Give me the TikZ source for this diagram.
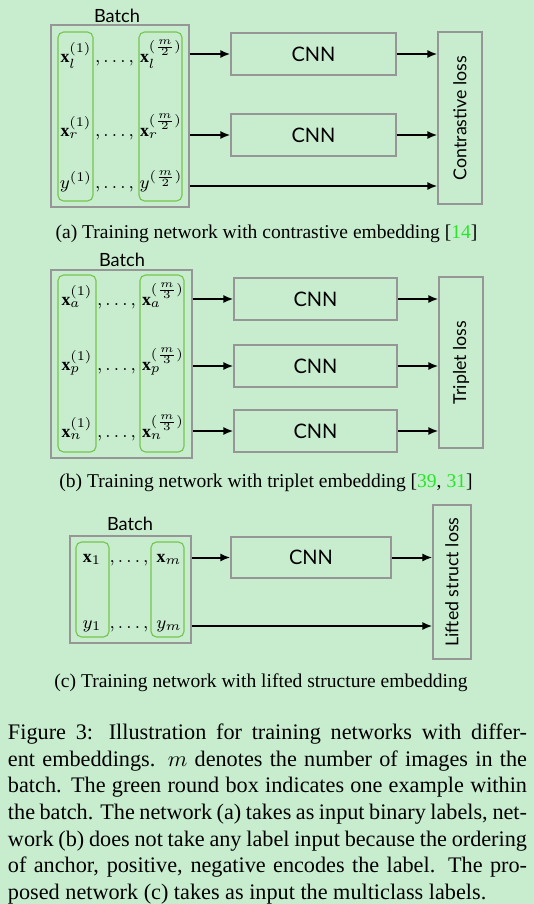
\documentclass[tikz,border=0pt]{standalone}
\usepackage{amsmath}
\usepackage{amssymb}
\usepackage{graphicx}
\usepackage{fontspec}
\setmainfont{Liberation Serif}
\setsansfont{Lato}
\usepackage{tikz}
\usetikzlibrary{arrows.meta}

\definecolor{bgreen}{RGB}{199,237,206}
\definecolor{boxgray}{RGB}{150,150,150}
\definecolor{exgreen}{RGB}{118,196,78}
\definecolor{refgreen}{RGB}{40,230,40}

\begin{document}
\begin{tikzpicture}[x=0.45pt,y=-0.45pt,
  every node/.style={font=\sffamily\fontsize{9}{11}\selectfont},
  batchbox/.style={draw=boxgray,line width=0.5pt,inner sep=0},
  batchlab/.style={anchor=base,inner sep=0,font=\sffamily\fontsize{8.2}{10}\selectfont},
  exbox/.style={draw=exgreen,line width=0.5pt,rounded corners=2.5pt,inner sep=0},
  cnnbox/.style={draw=boxgray,line width=0.5pt,minimum height=18.9pt},
  lossbox/.style={draw=boxgray,line width=0.5pt,minimum width=19.8pt,inner sep=0,font=\sffamily\fontsize{8}{10}\selectfont},
  entry/.style={anchor=base,inner sep=0,font=\fontsize{8}{10}\selectfont},
  flow/.style={line width=0.9pt,-{Latex[length=4.5pt,width=3.6pt]}},
  subcap/.style={font=\rmfamily\fontsize{8.8}{11}\selectfont},
  figcap/.style={font=\rmfamily\fontsize{10}{12}\selectfont,text width=233.55pt,align=justify,inner sep=0}]

\useasboundingbox (0,0) rectangle (534,904);
\fill [bgreen] (0,0) rectangle (534,904);

\begin{scope}

\node [batchbox,minimum width=62.1pt,minimum height=81.9pt] (batchA) at (120,116) {};
\node [batchlab] (batchlabA) at (117,22) {Batch};

\node [exbox,minimum width=15.75pt,minimum height=76.05pt] (exA1) at (75.5,116.5) {};
\node [exbox,minimum width=19.35pt,minimum height=76.05pt] (exA2) at (160.5,116.5) {};

\node [entry] (xlA1) at (76,62) {$\mathbf{x}_l^{(1)}$};
\node [entry] (dotsA1) at (114.5,62) {$,\ldots,$};
\node [entry] (xlA2) at (161,62) {$\mathbf{x}_l^{(\frac{m}{2})}$};
\node [entry] (xrA1) at (76,136) {$\mathbf{x}_r^{(1)}$};
\node [entry] (dotsA2) at (114.5,136) {$,\ldots,$};
\node [entry] (xrA2) at (161,136) {$\mathbf{x}_r^{(\frac{m}{2})}$};
\node [entry] (yA1) at (76,188) {$y^{(1)}$};
\node [entry] (dotsA3) at (114.5,188) {$,\ldots,$};
\node [entry] (yA2) at (161,188) {$y^{(\frac{m}{2})}$};

\node [cnnbox,minimum width=74.25pt] (cnnA1) at (313.5,54) {CNN};
\node [cnnbox,minimum width=74.25pt] (cnnA2) at (313.5,135) {CNN};
\node [lossbox,minimum height=77.4pt] (lossA) at (460,118) {\rotatebox{90}{Contrastive loss}};
\coordinate (rowA3) at (0,186);

\draw [flow] (batchA.east |- cnnA1) -- (cnnA1.west);
\draw [flow] (cnnA1.east) -- (lossA.west |- cnnA1);
\draw [flow] (batchA.east |- cnnA2) -- (cnnA2.west);
\draw [flow] (cnnA2.east) -- (lossA.west |- cnnA2);
\draw [flow] (batchA.east |- rowA3) -- (lossA.west |- rowA3);

\node [subcap] (capA) at (266.5,234) {(a) Training network with contrastive embedding [\textcolor{refgreen}{14}]};

\end{scope}

\begin{scope}

\node [batchbox,minimum width=63.45pt,minimum height=84.6pt] (batchB) at (121.5,364) {};
\node [batchlab] (batchlabB) at (122,266) {Batch};

\node [exbox,minimum width=17.1pt,minimum height=79.65pt] (exB1) at (77,363.5) {};
\node [exbox,minimum width=19.8pt,minimum height=79.65pt] (exB2) at (162,363.5) {};

\node [entry] (xaB1) at (77,305) {$\mathbf{x}_a^{(1)}$};
\node [entry] (dotsB1) at (116.5,305) {$,\ldots,$};
\node [entry] (xaB2) at (163,305) {$\mathbf{x}_a^{(\frac{m}{3})}$};
\node [entry] (xpB1) at (77,370) {$\mathbf{x}_p^{(1)}$};
\node [entry] (dotsB2) at (116.5,370) {$,\ldots,$};
\node [entry] (xpB2) at (163,370) {$\mathbf{x}_p^{(\frac{m}{3})}$};
\node [entry] (xnB1) at (77,437) {$\mathbf{x}_n^{(1)}$};
\node [entry] (dotsB3) at (116.5,437) {$,\ldots,$};
\node [entry] (xnB2) at (163,437) {$\mathbf{x}_n^{(\frac{m}{3})}$};

\node [cnnbox,minimum width=73.35pt] (cnnB1) at (315.5,299) {CNN};
\node [cnnbox,minimum width=73.35pt] (cnnB2) at (315.5,366) {CNN};
\node [cnnbox,minimum width=73.35pt] (cnnB3) at (315.5,431) {CNN};
\node [lossbox,minimum height=76.95pt] (lossB) at (461,362.5) {\rotatebox{90}{Triplet loss}};

\draw [flow] (batchB.east |- cnnB1) -- (cnnB1.west);
\draw [flow] (cnnB1.east) -- (lossB.west |- cnnB1);
\draw [flow] (batchB.east |- cnnB2) -- (cnnB2.west);
\draw [flow] (cnnB2.east) -- (lossB.west |- cnnB2);
\draw [flow] (batchB.east |- cnnB3) -- (cnnB3.west);
\draw [flow] (cnnB3.east) -- (lossB.west |- cnnB3);

\node [subcap] (capB) at (266,483) {(b) Training network with triplet embedding [\textcolor{refgreen}{39}, \textcolor{refgreen}{31}]};

\end{scope}

\begin{scope}

\node [batchbox,minimum width=54.45pt,minimum height=48.15pt] (batchC) at (130.5,589.5) {};
\node [batchlab] (batchlabC) at (130,530) {Batch};

\node [exbox,minimum width=14.85pt,minimum height=42.75pt] (exC1) at (92.5,589.5) {};
\node [exbox,minimum width=14.85pt,minimum height=42.75pt] (exC2) at (167.5,589.5) {};

\node [entry] (xC1) at (92,562) {$\mathbf{x}_1$};
\node [entry] (dotsC1) at (129,562) {$,\ldots,$};
\node [entry] (xC2) at (169,562) {$\mathbf{x}_m$};
\node [entry] (yC1) at (92,628) {$y_1$};
\node [entry] (dotsC2) at (129,628) {$,\ldots,$};
\node [entry] (yC2) at (169,628) {$y_m$};

\node [cnnbox,minimum width=72pt,minimum height=18.45pt] (cnnC) at (311,557.5) {CNN};
\node [lossbox,minimum width=17.1pt,minimum height=69.3pt] (lossC) at (452,582) {\rotatebox{90}{Lifted struct loss}};
\coordinate (rowC2) at (0,626);

\draw [flow] (batchC.east |- cnnC) -- (cnnC.west);
\draw [flow] (cnnC.east) -- (lossC.west |- cnnC);
\draw [flow] (batchC.east |- rowC2) -- (lossC.west |- rowC2);

\node [subcap] (capC) at (261,683) {(c) Training network with lifted structure embedding};

\end{scope}

\node [figcap,anchor=north] (figcap) at (267.5,723.5) {\hyphenpenalty=10000
Figure 3: Illustration for training networks with differ-\linebreak
ent embeddings. $m$ denotes the number of images in the\linebreak
batch. The green round box indicates one example within\linebreak
the batch. The network (a) takes as input binary labels, net-\linebreak
work (b) does not take any label input because the ordering\linebreak
of anchor, positive, negative encodes the label. The pro-\linebreak
posed network (c) takes as input the multiclass labels.};

\end{tikzpicture}
\end{document}
